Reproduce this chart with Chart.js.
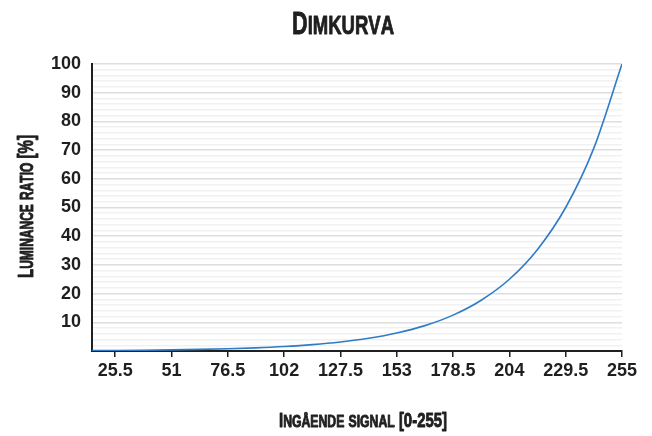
<!DOCTYPE html>
<html>
<head>
<meta charset="utf-8">
<script src="https://cdn.jsdelivr.net/npm/chart.js@4"></script>
<style>
  html, body { margin: 0; padding: 0; background: #fff; }
  #wrap { width: 652px; height: 436px; }
</style>
</head>
<body>
<div id="wrap"><canvas id="chartDim" width="652" height="436"></canvas></div>
<script>
const signalIn = [15, 25.5, 38.25, 51, 63.75, 76.5, 89.25, 102, 114.75, 127.5, 140.25, 153,
    165.75, 178.5, 191.25, 204, 216.75, 229.5, 242.25, 255];
const luminance = [0.15, 0.2, 0.28, 0.39, 0.55, 0.78, 1.1, 1.56, 2.21, 3.13, 4.42, 6.25,
    8.84, 12.5, 17.7, 25, 35.4, 50, 70.7, 100];
const xTicks = [25.5, 51, 76.5, 102, 127.5, 153, 178.5, 204, 229.5, 255];

const chartTitle = 'Dimkurva';
const xTitle = 'Ingående signal [0-255]';
const yTitle = 'Luminance ratio [%]';

const family = "'Liberation Sans', Arial, sans-serif";
const ink = '#1f1f1f';

// small caps text squeezed to a condensed width (the original uses a narrow display face)
function smallCaps(ctx, text, cx, baseY, big, small, width, angle) {
    const parts = [...text].map(ch => {
        const low = ch !== ch.toUpperCase();
        return {ch: ch.toUpperCase(), font: `bold ${low ? small : big}px ${family}`};
    });
    let total = 0;
    parts.forEach(p => { ctx.font = p.font; p.w = ctx.measureText(p.ch).width; total += p.w; });
    const sx = width / total;
    ctx.save();
    ctx.translate(cx, baseY);
    if (angle) ctx.rotate(angle);
    ctx.scale(sx, 1);
    ctx.fillStyle = ink;
    ctx.strokeStyle = ink;
    ctx.lineWidth = 0.9;
    ctx.lineJoin = 'round';
    ctx.textBaseline = 'alphabetic';
    ctx.textAlign = 'left';
    let x = -total / 2;
    parts.forEach(p => {
        ctx.font = p.font;
        ctx.fillText(p.ch, x, 0);
        ctx.strokeText(p.ch, x, 0);
        x += p.w;
    });
    ctx.restore();
}

const titlesPlugin = {
    id: 'titles',
    afterDraw(chart) {
        const c = chart.ctx;
        smallCaps(c, chartTitle, 343, 34, 31, 26.5, 102, 0);
        smallCaps(c, xTitle, 363, 427, 19.5, 16, 168, 0);
        smallCaps(c, yTitle, 33, 206.5, 22, 17.5, 143, -Math.PI / 2);
    }
};

const ctx = document.getElementById('chartDim').getContext('2d');
const chart = new Chart(ctx, {
    type: 'line',
    data: {
        datasets: [{
            data: signalIn.map((x, i) => ({x: x, y: luminance[i]})),
            borderColor: '#2f7cc6',
            borderWidth: 1.6,
            pointRadius: 0,
            fill: false,
            cubicInterpolationMode: 'monotone',
        }]
    },
    options: {
        responsive: false,
        animation: false,
        layout: {padding: {left: 0, right: 30, bottom: 0, top: 64}},
        plugins: {
            legend: {display: false},
            tooltip: {enabled: false},
        },
        scales: {
            x: {
                type: 'linear',
                min: 15,
                max: 255,
                afterBuildTicks: axis => {
                    axis.ticks = xTicks.map(v => ({value: v}));
                },
                afterFit: axis => { axis.height = 85; },
                ticks: {
                    color: ink,
                    font: {family: family, size: 18, weight: 'bold'},
                    padding: 3,
                    maxRotation: 0,
                    autoSkip: false,
                    callback: v => String(v),
                },
                grid: {drawOnChartArea: false, drawTicks: true, tickLength: 6, color: ink, lineWidth: 1.5},
                border: {color: ink, width: 2},
            },
            y: {
                min: 0,
                max: 100,
                afterFit: axis => { axis.width = 92; },
                ticks: {
                    stepSize: 2,
                    autoSkip: false,
                    color: ink,
                    font: {family: family, size: 18, weight: 'bold'},
                    padding: 11,
                    callback: v => (v % 10 === 0 && v > 0) ? v : '',
                },
                grid: {
                    drawTicks: false,
                    color: c => (c.tick && c.tick.value % 10 === 0) ? '#dedede' : '#f1f1f1',
                    lineWidth: 1.5,
                },
                border: {color: ink, width: 2},
            },
        },
    },
    plugins: [titlesPlugin],
});
</script>
</body>
</html>
